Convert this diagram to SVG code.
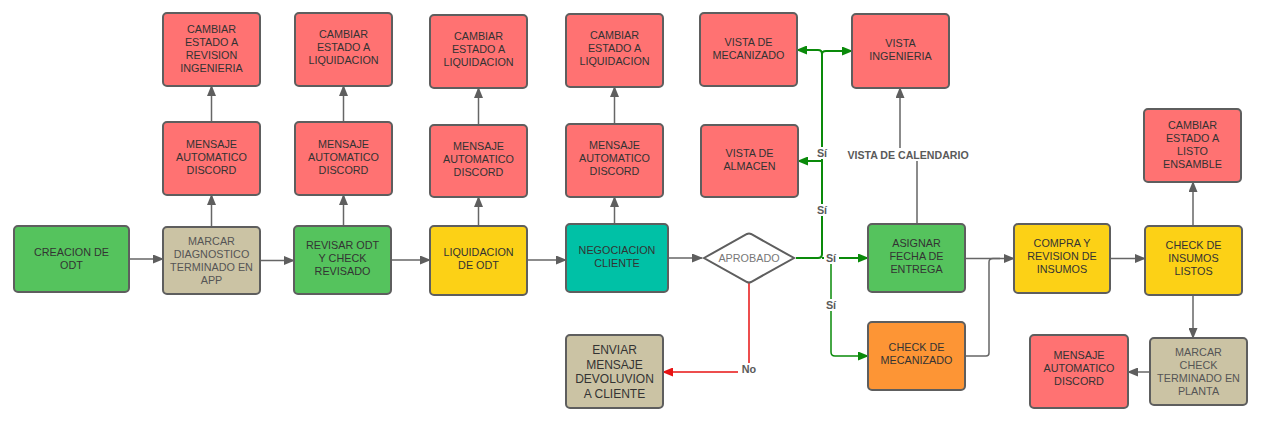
<svg xmlns="http://www.w3.org/2000/svg" width="1264" height="444" viewBox="0 0 1264 444">
<defs>
<marker id="ag" markerUnits="userSpaceOnUse" markerWidth="11" markerHeight="9" refX="10" refY="4.5" orient="auto"><path d="M0,0 L11,4.5 L0,9 z" fill="#5e5e5e"/></marker>
<marker id="agr" markerUnits="userSpaceOnUse" markerWidth="11" markerHeight="9" refX="10" refY="4.5" orient="auto"><path d="M0,0 L11,4.5 L0,9 z" fill="#0a8a0a"/></marker>
<marker id="ar" markerUnits="userSpaceOnUse" markerWidth="11" markerHeight="9" refX="10" refY="4.5" orient="auto"><path d="M0,0 L11,4.5 L0,9 z" fill="#e81313"/></marker>
</defs>
<style>
.n{stroke:#5e5e5e;stroke-width:2}
.red{fill:#ff7272}.grn{fill:#55c35d}.tan{fill:#cbc3a4}.yel{fill:#fcd116}.tea{fill:#00c1a6}.org{fill:#fd9535}
text{font-family:"Liberation Sans",Arial,sans-serif;font-size:10.8px;text-anchor:middle;fill:#333}
.lt{fill:#555}
.big{font-size:12px;fill:#333}
.lbl{font-weight:bold;fill:#5a5a5a}
.c{fill:none;stroke:#666;stroke-width:1.5}
.g{fill:none;stroke:#0a8a0a;stroke-width:2}
.g2{fill:none;stroke:#0a8a0a;stroke-width:1.5}
.r{fill:none;stroke:#e81313;stroke-width:1.5}
.bg{fill:#fff}
</style>
<g id="connectors">
<path class="c" d="M129,259 H163" marker-end="url(#ag)"/>
<path class="c" d="M260,260.5 H294" marker-end="url(#ag)"/>
<path class="c" d="M391,260 H430" marker-end="url(#ag)"/>
<path class="c" d="M527,260 H566" marker-end="url(#ag)"/>
<path class="c" d="M668,258 H702" marker-end="url(#ag)"/>
<path class="c" d="M211.5,227 V195" marker-end="url(#ag)"/>
<path class="c" d="M211.5,122 V86" marker-end="url(#ag)"/>
<path class="c" d="M343.5,226 V195" marker-end="url(#ag)"/>
<path class="c" d="M343.5,122 V86" marker-end="url(#ag)"/>
<path class="c" d="M478.5,226 V197" marker-end="url(#ag)"/>
<path class="c" d="M478.5,125 V88" marker-end="url(#ag)"/>
<path class="c" d="M614.5,224 V197" marker-end="url(#ag)"/>
<path class="c" d="M614.5,124 V87" marker-end="url(#ag)"/>
<path class="c" d="M917,224 V155 H900 V88" marker-end="url(#ag)"/>
<path class="c" d="M965,258.5 H1014" marker-end="url(#ag)"/>
<path class="c" d="M965,356 H986 Q989,356 989,353 V262 Q989,258.5 993,258.5 H1000"/>
<path class="c" d="M1110,258.5 H1145" marker-end="url(#ag)"/>
<path class="c" d="M1193,226 V182" marker-end="url(#ag)"/>
<path class="c" d="M1193,295 V338" marker-end="url(#ag)"/>
<path class="c" d="M1150,372 H1128" marker-end="url(#ag)"/>
<path class="r" d="M749,283 V372 H663" marker-end="url(#ar)"/>
<path class="g" d="M796,258 H818 Q822,258 822,254 V54 Q822,50 818,50 H797" marker-end="url(#agr)"/>
<path class="g" d="M822,54 Q822,51 826,51 H852" marker-end="url(#agr)"/>
<path class="g" d="M822,161 H798" marker-end="url(#agr)"/>
<path class="g" d="M822,258 H868" marker-end="url(#agr)"/>
<path class="g2" d="M831,258 V352 Q831,356 835,356 H868" marker-end="url(#agr)"/>
<rect class="bg" x="846" y="148" width="126" height="13"/>
<text class="lbl" x="908" y="158.5" style="font-size:10.6px">VISTA DE CALENDARIO</text>
<rect class="bg" x="738" y="363" width="22" height="12"/>
<text class="lbl" x="749" y="373">No</text>
<rect class="bg" x="815" y="147" width="15" height="12"/>
<text class="lbl" x="822" y="157">Sí</text>
<rect class="bg" x="815" y="204" width="15" height="12"/>
<text class="lbl" x="822" y="214">Sí</text>
<rect class="bg" x="824" y="252" width="15" height="12"/>
<text class="lbl" x="831" y="262">Sí</text>
<rect class="bg" x="824" y="299" width="15" height="12"/>
<text class="lbl" x="831" y="309">Sí</text>
</g>
<g id="creacion"><rect class="n grn" x="14" y="226" width="115" height="66" rx="4"/><text x="71.5" y="256">CREACION DE</text><text x="71.5" y="269">ODT</text></g>
<g id="marcar_diag"><rect class="n tan" x="163" y="227" width="97" height="67" rx="4"/><text class="lt" x="211.5" y="245">MARCAR</text><text class="lt" x="211.5" y="258">DIAGNOSTICO</text><text class="lt" x="211.5" y="271">TERMINADO EN</text><text class="lt" x="211.5" y="284">APP</text></g>
<g id="revisar"><rect class="n grn" x="294" y="226" width="97" height="68" rx="4"/><text x="342.5" y="249">REVISAR ODT</text><text x="342.5" y="262">Y CHECK</text><text x="342.5" y="275">REVISADO</text></g>
<g id="liquidacion"><rect class="n yel" x="430" y="226" width="97" height="69" rx="4"/><text x="478.5" y="256">LIQUIDACION</text><text x="478.5" y="269">DE ODT</text></g>
<g id="negociacion"><rect class="n tea" x="566" y="224" width="102" height="68" rx="4"/><text x="617" y="254">NEGOCIACION</text><text x="617" y="267">CLIENTE</text></g>
<g id="aprobado"><path d="M704,258 L747,234 Q749,233 751,234 L794,258 L751,282 Q749,283 747,282 Z" fill="#fff" stroke="#5e5e5e" stroke-width="2"/><text x="749" y="262" style="fill:#777">APROBADO</text></g>
<g id="enviar"><rect class="n tan" x="566" y="335" width="97" height="73" rx="4"/><text class="big" x="614.5" y="354">ENVIAR</text><text class="big" x="614.5" y="368.5">MENSAJE</text><text class="big" x="614.5" y="383">DEVOLUVION</text><text class="big" x="614.5" y="397.5">A CLIENTE</text></g>
<g id="asignar"><rect class="n grn" x="868" y="224" width="97" height="68" rx="4"/><text x="916.5" y="247">ASIGNAR</text><text x="916.5" y="260">FECHA DE</text><text x="916.5" y="273">ENTREGA</text></g>
<g id="check_mec"><rect class="n org" x="868" y="322" width="97" height="68" rx="4"/><text x="916.5" y="351">CHECK DE</text><text x="916.5" y="364">MECANIZADO</text></g>
<g id="compra"><rect class="n yel" x="1014" y="224" width="96" height="69" rx="4"/><text x="1062" y="247">COMPRA Y</text><text x="1062" y="260">REVISION DE</text><text x="1062" y="273">INSUMOS</text></g>
<g id="check_insumos"><rect class="n yel" x="1145" y="226" width="97" height="69" rx="4"/><text x="1193.5" y="249">CHECK DE</text><text x="1193.5" y="262">INSUMOS</text><text x="1193.5" y="275">LISTOS</text></g>
<g id="marcar_check"><rect class="n tan" x="1150" y="338" width="97" height="67" rx="4"/><text class="lt" x="1198.5" y="356">MARCAR</text><text class="lt" x="1198.5" y="369">CHECK</text><text class="lt" x="1198.5" y="382">TERMINADO EN</text><text class="lt" x="1198.5" y="395">PLANTA</text></g>
<g id="mensaje5"><rect class="n red" x="1030" y="335" width="98" height="73" rx="4"/><text x="1079" y="359">MENSAJE</text><text x="1079" y="372">AUTOMATICO</text><text x="1079" y="385">DISCORD</text></g>
<g id="cambiar_listo"><rect class="n red" x="1144" y="109" width="97" height="73" rx="4"/><text x="1192.5" y="129">CAMBIAR</text><text x="1192.5" y="142">ESTADO A</text><text x="1192.5" y="155">LISTO</text><text x="1192.5" y="168">ENSAMBLE</text></g>
<g id="vista_ing"><rect class="n red" x="852" y="14" width="97" height="74" rx="4"/><text x="900.5" y="47">VISTA</text><text x="900.5" y="60">INGENIERIA</text></g>
<g id="vista_mec"><rect class="n red" x="700" y="13" width="97" height="73" rx="4"/><text x="748.5" y="46">VISTA DE</text><text x="748.5" y="59">MECANIZADO</text></g>
<g id="vista_alm"><rect class="n red" x="701" y="125" width="97" height="72" rx="4"/><text x="749.5" y="157">VISTA DE</text><text x="749.5" y="170">ALMACEN</text></g>
<g id="cambiar1"><rect class="n red" x="163" y="13" width="97" height="73" rx="4"/><text x="211.5" y="33">CAMBIAR</text><text x="211.5" y="46">ESTADO A</text><text x="211.5" y="59">REVISION</text><text x="211.5" y="72">INGENIERIA</text></g>
<g id="mensaje1"><rect class="n red" x="163" y="122" width="97" height="73" rx="4"/><text x="211.5" y="147.5">MENSAJE</text><text x="211.5" y="160.5">AUTOMATICO</text><text x="211.5" y="173.5">DISCORD</text></g>
<g id="cambiar2"><rect class="n red" x="295" y="13" width="97" height="73" rx="4"/><text x="343.5" y="38">CAMBIAR</text><text x="343.5" y="51">ESTADO A</text><text x="343.5" y="64">LIQUIDACION</text></g>
<g id="mensaje2"><rect class="n red" x="295" y="122" width="97" height="73" rx="4"/><text x="343.5" y="147.5">MENSAJE</text><text x="343.5" y="160.5">AUTOMATICO</text><text x="343.5" y="173.5">DISCORD</text></g>
<g id="cambiar3"><rect class="n red" x="430" y="15" width="97" height="73" rx="4"/><text x="478.5" y="40">CAMBIAR</text><text x="478.5" y="53">ESTADO A</text><text x="478.5" y="66">LIQUIDACION</text></g>
<g id="mensaje3"><rect class="n red" x="430" y="125" width="97" height="72" rx="4"/><text x="478.5" y="150">MENSAJE</text><text x="478.5" y="163">AUTOMATICO</text><text x="478.5" y="176">DISCORD</text></g>
<g id="cambiar4"><rect class="n red" x="566" y="14" width="97" height="73" rx="4"/><text x="614.5" y="39">CAMBIAR</text><text x="614.5" y="52">ESTADO A</text><text x="614.5" y="65">LIQUIDACION</text></g>
<g id="mensaje4"><rect class="n red" x="566" y="124" width="97" height="73" rx="4"/><text x="614.5" y="149">MENSAJE</text><text x="614.5" y="162">AUTOMATICO</text><text x="614.5" y="175">DISCORD</text></g>
</svg>
